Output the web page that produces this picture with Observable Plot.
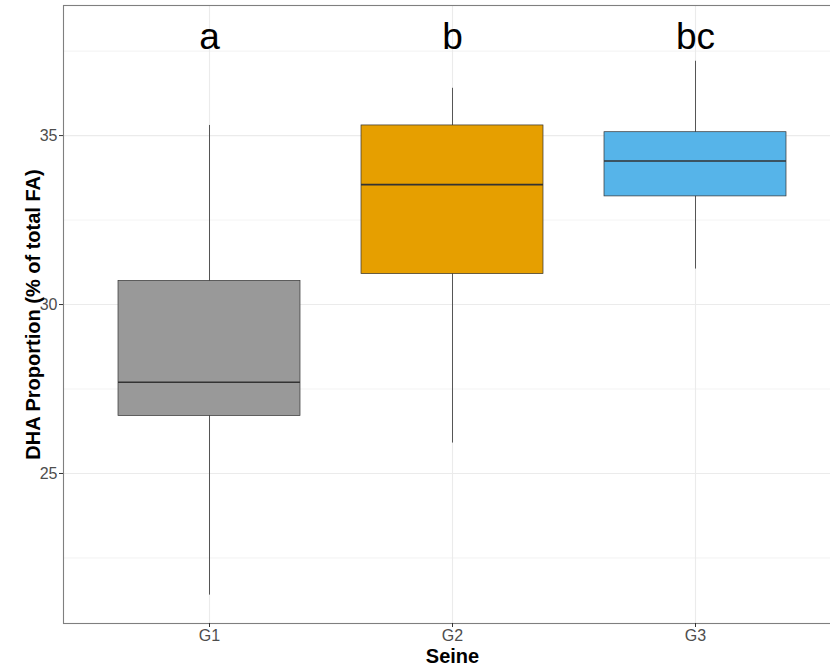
<!DOCTYPE html>
<html>
<head>
<meta charset="utf-8">
<script src="https://cdn.jsdelivr.net/npm/d3@7"></script>
<script src="https://cdn.jsdelivr.net/npm/@observablehq/plot@0.6"></script>
<style>
  html, body { margin: 0; padding: 0; background: #fff; overflow: hidden; }
  #chart { width: 830px; height: 671px; overflow: hidden; }
  #chart svg { max-width: none !important; }
</style>
</head>
<body>
<div id="chart"></div>
<script>
const groups = ["G1", "G2", "G3"];
const lowWhisker = [21.4, 25.9, 31.05];
const q1 = [26.7, 30.9, 33.2];
const median = [27.7, 33.55, 34.25];
const q3 = [30.7, 35.3, 35.1];
const highWhisker = [35.3, 36.4, 37.2];
const letters = ["a", "b", "bc"];
const letterY = 37.9;
const fills = ["#999999", "#E69F00", "#56B4E9"];
const yTicks = [25, 30, 35];
const yMinor = [22.5, 27.5, 32.5, 37.5];
const yLabel = "DHA Proportion (% of total FA)";
const xLabel = "Seine";

const data = groups.map((g, i) => ({
  g, low: lowWhisker[i], q1: q1[i], med: median[i], q3: q3[i], high: highWhisker[i],
  fill: fills[i], letter: letters[i]
}));

const chart = Plot.plot({
  width: 845,
  height: 671,
  marginLeft: 63,
  marginRight: 4,
  marginTop: 5,
  marginBottom: 48,
  style: { fontFamily: "'Liberation Sans', Arial, sans-serif", background: "#fff", maxWidth: "none" },
  x: { domain: groups, paddingInner: 0.25, paddingOuter: 0.225, align: 0.5 },
  y: { domain: [20.56, 38.85] },
  marks: [
    Plot.ruleY(yMinor, { stroke: "#ebebeb", strokeWidth: 0.6 }),
    Plot.ruleY(yTicks, { stroke: "#ebebeb", strokeWidth: 1.1 }),
    Plot.ruleX(groups, { x: d => d, stroke: "#ebebeb", strokeWidth: 1.1 }),
    Plot.ruleX(data, { x: "g", y1: "low", y2: "high", stroke: "#555", strokeWidth: 1 }),
    Plot.barY(data, { x: "g", y1: "q1", y2: "q3", fill: "fill", stroke: "#333", strokeWidth: 0.7 }),
    Plot.tickY(data, { x: "g", y: "med", stroke: "#333", strokeWidth: 1.6 }),
    Plot.text(data, { x: "g", y: () => letterY, text: "letter", fontSize: 37, fill: "#000", lineAnchor: "middle" }),
    Plot.frame({ stroke: "#7f7f7f", strokeWidth: 1.1 }),
    Plot.axisY(yTicks, { tickSize: 4, tickFormat: () => "", stroke: "#333", label: null }),
    Plot.axisX({ tickSize: 4, tickFormat: () => "", stroke: "#333", label: null }),
    Plot.text(yTicks, { y: d => d, frameAnchor: "left", dx: -6, textAnchor: "end", lineAnchor: "middle", fontSize: 16, fill: "#4d4d4d", text: d => String(d) }),
    Plot.text(groups, { x: d => d, frameAnchor: "bottom", dy: 12, textAnchor: "middle", lineAnchor: "middle", fontSize: 16, fill: "#4d4d4d", text: d => d }),
    Plot.text([yLabel], { frameAnchor: "left", dx: -30, rotate: -90, textAnchor: "middle", lineAnchor: "middle", fontSize: 20, fontWeight: "bold", fill: "#000", text: d => d }),
    Plot.text([xLabel], { frameAnchor: "bottom", dy: 33, textAnchor: "middle", lineAnchor: "middle", fontSize: 20, fontWeight: "bold", fill: "#000", text: d => d })
  ]
});
document.getElementById("chart").appendChild(chart);
</script>
</body>
</html>
